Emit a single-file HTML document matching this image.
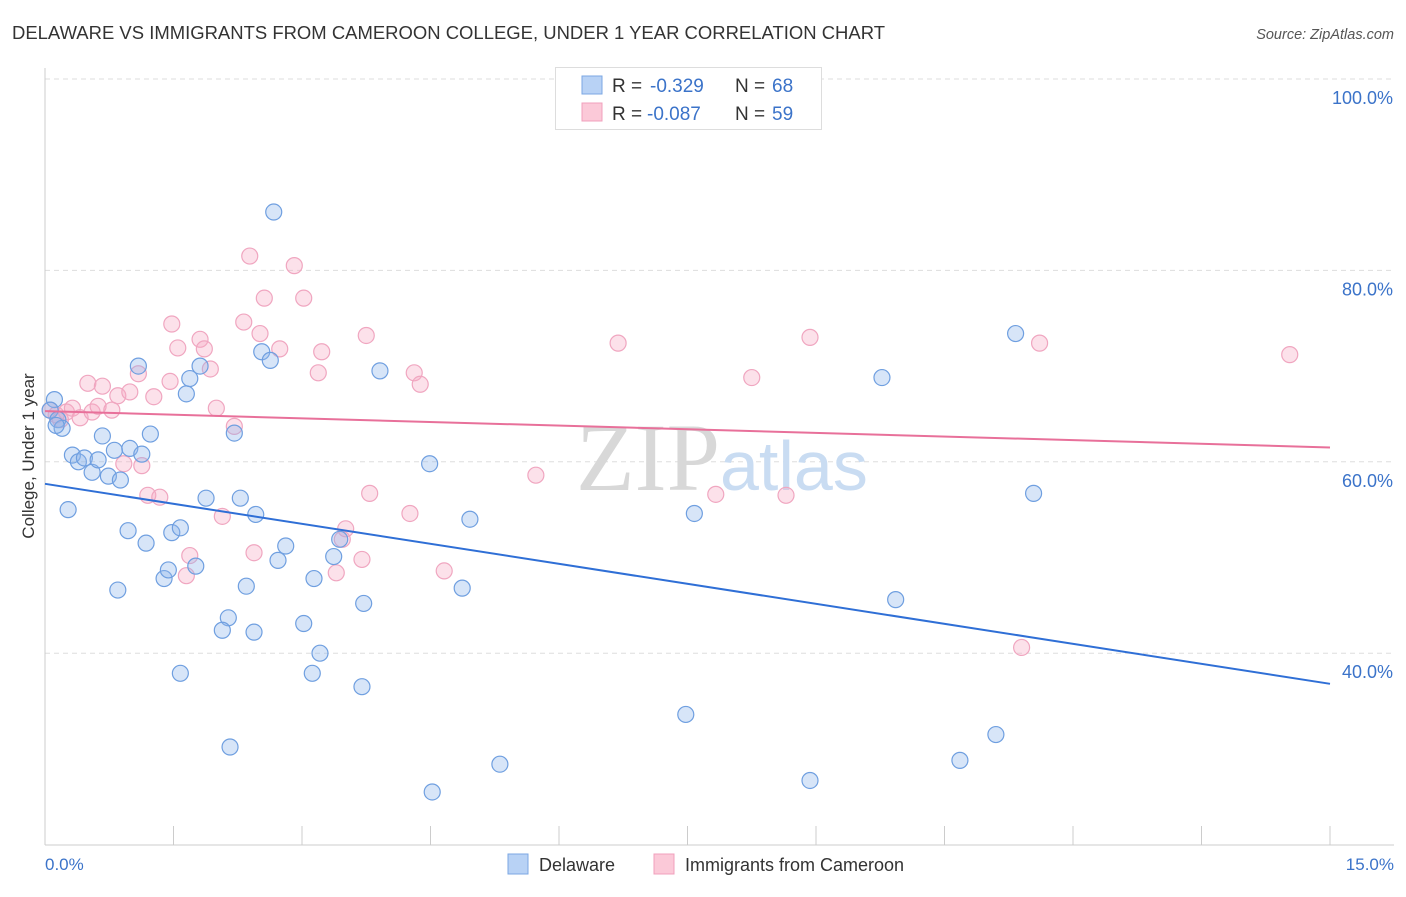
<!DOCTYPE html>
<html><head><meta charset="utf-8"><style>
body{margin:0;background:#fff;font-family:"Liberation Sans",sans-serif;}
svg text{font-family:"Liberation Sans",sans-serif;}
</style></head><body>
<svg id="chart" width="1406" height="892">
<text x="12" y="39" font-size="18" fill="#333" textLength="873" lengthAdjust="spacingAndGlyphs">DELAWARE VS IMMIGRANTS FROM CAMEROON COLLEGE, UNDER 1 YEAR CORRELATION CHART</text>
<text x="1394" y="39" font-size="14.5" fill="#555" font-style="italic" text-anchor="end">Source: ZipAtlas.com</text>
<g id="grid"></g>
<text x="720" y="490" font-size="96" fill="#d8d8d8" text-anchor="end" style="font-family:'Liberation Serif',serif">ZIP</text>
<text x="720" y="490" font-size="70" fill="#c9dcf2">atlas</text>
<line x1="45" y1="68" x2="45" y2="845" stroke="#ccc"/>
<line x1="45" y1="845" x2="1394" y2="845" stroke="#ccc"/>
<g id="xticks"></g>
<g id="pts"></g>
<g id="trends"></g>
<text x="0" y="0" font-size="17" fill="#333" text-anchor="middle" transform="translate(34,456) rotate(-90)">College, Under 1 year</text>
<text x="45" y="870" font-size="17" fill="#3b73c9">0.0%</text>
<text x="1394" y="870" font-size="17" fill="#3b73c9" text-anchor="end">15.0%</text>
<g>
<rect x="555.5" y="67.5" width="266" height="62" fill="#fff" stroke="#ddd"/>
<rect x="582" y="76" width="20" height="18" fill="#b8d2f5" stroke="#7ba7e3"/>
<rect x="582" y="103" width="20" height="18" fill="#fbc9d8" stroke="#f0a0bc"/>
<text x="612" y="92" font-size="19" fill="#333">R = </text><text x="650" y="92" font-size="19" fill="#3b73c9">-0.329</text>
<text x="735" y="92" font-size="19" fill="#333">N = </text><text x="772" y="92" font-size="19" fill="#3b73c9">68</text>
<text x="612" y="120" font-size="19" fill="#333">R = </text><text x="647" y="120" font-size="19" fill="#3b73c9">-0.087</text>
<text x="735" y="120" font-size="19" fill="#333">N = </text><text x="772" y="120" font-size="19" fill="#3b73c9">59</text>
</g>
<g>
<rect x="508" y="854" width="20" height="20" fill="#b8d2f5" stroke="#7ba7e3"/>
<text x="539" y="871" font-size="18" fill="#333">Delaware</text>
<rect x="654" y="854" width="20" height="20" fill="#fbc9d8" stroke="#f0a0bc"/>
<text x="685" y="871" font-size="18" fill="#333">Immigrants from Cameroon</text>
</g>
</svg>
<script>
const yTicks=[100,80,60,40];
const yTickLabels=["100.0%","80.0%","60.0%","40.0%"];
const blueX=[0.11,0.06,0.15,0.20,0.13,0.32,0.39,0.46,0.55,0.62,0.67,0.74,0.81,0.88,0.99,1.13,1.23,1.09,0.27,0.97,1.18,1.48,1.58,0.85,1.39,1.44,1.76,1.65,1.69,1.81,1.88,2.21,2.28,2.46,2.53,2.63,2.67,2.35,2.14,2.07,2.44,2.81,2.72,3.14,3.02,3.21,3.12,3.37,3.44,3.72,3.70,3.91,4.49,4.96,4.87,4.52,5.31,1.58,2.16,7.48,7.58,8.93,9.77,9.93,10.68,11.10,11.33,11.54];
const blueY=[66.5,65.4,64.4,63.5,63.8,60.7,60.0,60.4,58.9,60.2,62.7,58.5,61.2,58.1,61.4,60.8,62.9,70.0,55.0,52.8,51.5,52.6,53.1,46.6,47.8,48.7,49.1,67.1,68.7,70.0,56.2,63.0,56.2,54.5,71.5,70.6,86.1,47.0,43.7,42.4,42.2,51.2,49.7,47.8,43.1,40.0,37.9,50.1,51.9,45.2,36.5,69.5,59.8,54.0,46.8,25.5,28.4,37.9,30.2,33.6,54.6,26.7,68.8,45.6,28.8,31.5,73.4,56.7];
const pinkX=[0.06,0.13,0.18,0.25,0.32,0.41,0.50,0.55,0.62,0.67,0.78,0.85,0.92,0.99,1.09,1.13,1.20,1.27,1.34,1.46,1.48,1.55,1.69,1.65,1.81,1.86,1.93,2.00,2.07,2.21,2.39,2.32,2.51,2.56,2.44,2.74,2.91,3.02,3.19,3.23,3.40,3.51,3.47,3.75,3.70,3.79,4.26,4.31,4.38,4.66,5.73,6.69,7.83,8.25,8.65,8.93,11.40,11.61,14.53];
const pinkY=[65.4,64.9,64.4,65.2,65.6,64.6,68.2,65.2,65.8,67.9,65.4,66.9,59.8,67.3,69.2,59.6,56.5,66.8,56.3,68.4,74.4,71.9,50.2,48.1,72.8,71.8,69.7,65.6,54.3,63.7,81.5,74.6,73.4,77.1,50.5,71.8,80.5,77.1,69.3,71.5,48.4,53.0,51.9,73.2,49.8,56.7,54.6,69.3,68.1,48.6,58.6,72.4,56.6,68.8,56.5,73.0,40.6,72.4,71.2];
const blueTrend=[57.7,36.8];
const pinkTrend=[65.3,61.5];
const NS="http://www.w3.org/2000/svg";
const sx=v=>45+v*(1285/15);
const sy=v=>79+(100-v)*9.57;
function mk(tag,attrs,parent){const e=document.createElementNS(NS,tag);for(const k in attrs)e.setAttribute(k,attrs[k]);parent.appendChild(e);return e;}
const grid=document.getElementById('grid');
yTicks.forEach((t,i)=>{
  const l=mk('line',{x1:45,x2:1394,y1:sy(t),y2:sy(t),stroke:'#ddd','stroke-dasharray':'5,4'},grid);
  
  
  const tx=mk('text',{x:1393,y:sy(t)+25,'font-size':18,fill:'#3b73c9','text-anchor':'end'},grid);
  tx.textContent=yTickLabels[i];
  
  
});
const xt=document.getElementById('xticks');
for(let i=0;i<=10;i++){
  const l=mk('line',{x1:sx(i*1.5),x2:sx(i*1.5),y1:826,y2:845,stroke:'#ccc'},xt);
  
  
}
const pts=document.getElementById('pts');
pinkX.forEach((x,i)=>{
  const c=mk('circle',{cx:sx(x),cy:sy(pinkY[i]),r:8,fill:'rgba(246,170,196,0.35)',stroke:'#f0a6c0','stroke-width':1.2},pts);
  
  
});
blueX.forEach((x,i)=>{
  const c=mk('circle',{cx:sx(x),cy:sy(blueY[i]),r:8,fill:'rgba(140,180,236,0.35)',stroke:'#6f9fe0','stroke-width':1.2},pts);
  
  
});
const tr=document.getElementById('trends');
const bl=mk('line',{x1:sx(0),x2:sx(15),y1:sy(blueTrend[0]),y2:sy(blueTrend[1]),stroke:'#2f6fd6','stroke-width':2},tr);


const pl=mk('line',{x1:sx(0),x2:sx(15),y1:sy(pinkTrend[0]),y2:sy(pinkTrend[1]),stroke:'#e8709a','stroke-width':2},tr);


</script>
</body></html>
